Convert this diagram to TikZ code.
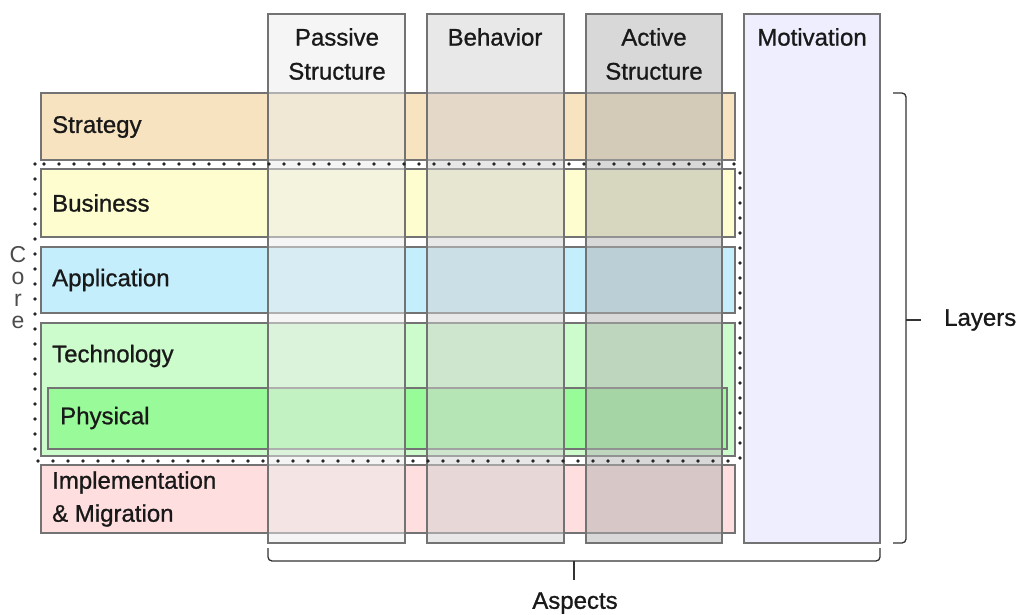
\documentclass[tikz,border=0pt]{standalone}
\usepackage{fontspec}
\setmainfont{Liberation Sans}[FakeBold=0.9]
\newfontfamily\plainfont{Liberation Sans}
\begin{document}
\begin{tikzpicture}[x=1pt,y=-1pt,
  rowbox/.style={draw=black!55, line width=1.1pt},
  colbox/.style={draw=black!55, line width=1.1pt, fill opacity=0.5},
  lbl/.style={anchor=west, font=\fontsize{24}{26}\selectfont, text=black!90, inner sep=0pt},
  hdr/.style={align=center, font=\fontsize{24}{34}\selectfont, text=black!90, inner sep=0pt},
  brace/.style={draw=black!80, line width=1.3pt, rounded corners=4pt},
  corelet/.style={font=\plainfont\fontsize{23}{24}\selectfont, text=black!70, inner sep=0pt},
  dotline/.style={black!85, line width=3.6pt, line cap=round, dash pattern=on 0pt off 15pt}]
\useasboundingbox (0,0) rectangle (1019,614);
\definecolor{cStrat}{HTML}{F8E3C0}
\definecolor{cBus}{HTML}{FEFDCF}
\definecolor{cApp}{HTML}{C4EEFC}
\definecolor{cTech}{HTML}{CCFCCC}
\definecolor{cPhys}{HTML}{99FA99}
\definecolor{cImpl}{HTML}{FEDEDE}
\definecolor{cMot}{HTML}{EEEEFE}
% rows
\draw[rowbox, fill=cStrat] (41,93) rectangle (735,160);
\draw[rowbox, fill=cBus] (41,169) rectangle (735,237);
\draw[rowbox, fill=cApp] (41,247) rectangle (735,313);
\draw[rowbox, fill=cTech] (41,323) rectangle (735,456);
\draw[rowbox, fill=cPhys] (48,388) rectangle (727,449);
\draw[rowbox, fill=cImpl] (41,465) rectangle (735,533);
\node[lbl] (strategy) at (52,127) {Strategy};
\node[lbl] (business) at (52,203) {Business};
\node[lbl] (application) at (52,280) {Application};
\node[lbl] (technology) at (52,356) {Technology};
\node[lbl] (physical) at (60,418) {Physical};
\node[lbl, align=left] (impl) at (52,499) {Implementation\\[7pt]\& Migration};
% core band
\draw[white, line width=5pt] (35,164) rectangle (740,461);
\node[corelet] (c1) at (18,255) {C};
\node[corelet] (c2) at (18,278) {o};
\node[corelet] (c3) at (18,300) {r};
\node[corelet] (c4) at (18,322) {e};
% aspect columns
\draw[colbox, fill=black!8] (268,14) rectangle (405,543);
\draw[colbox, fill=black!18] (427,14) rectangle (564,543);
\draw[colbox, fill=black!30] (586,14) rectangle (722,543);
\draw[rowbox, fill=cMot] (744,14) rectangle (880,543);
% core dots
\draw[dotline] (35,164) rectangle (740,461);
\node[hdr] (passive) at (337,54) {Passive\\Structure};
\node[hdr] (behavior) at (495,37) {Behavior};
\node[hdr] (active) at (654,54) {Active\\Structure};
\node[hdr] (motivation) at (812,37) {Motivation};
% braces
\coordinate (lt) at (893,93);
\coordinate (lm) at (906,320);
\coordinate (lb) at (893,543);
\draw[brace] (lt) -| (lm) |- (lb);
\draw[brace] (lm) -- (921,320);
\node[lbl] (layers) at (944,320) {Layers};
\coordinate (al) at (268,548);
\coordinate (am) at (574,561);
\coordinate (ar) at (880,548);
\draw[brace] (al) |- (am) -| (ar);
\draw[brace] (am) -- (574,580);
\node[hdr] (aspects) at (575,603) {Aspects};
\end{tikzpicture}
\end{document}
